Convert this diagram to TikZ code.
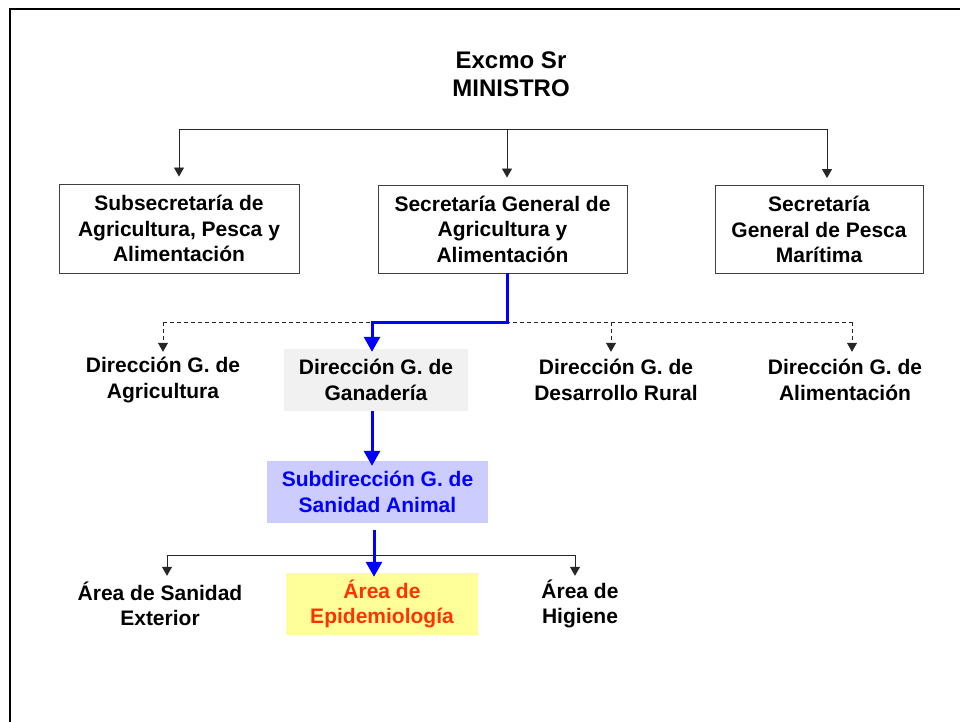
\documentclass[tikz,border=0pt]{standalone}
\usepackage{fontspec}
\setmainfont{Liberation Sans}
\usetikzlibrary{arrows.meta}
\definecolor{azul}{HTML}{0000FF}
\definecolor{lila}{HTML}{CCCCFF}
\definecolor{amarillo}{HTML}{FFFF99}
\definecolor{rojo}{HTML}{FF3300}
\definecolor{grisclaro}{HTML}{F1F1F1}
\begin{document}
\begin{tikzpicture}[x=1pt,y=-1pt,
  texto/.style={align=center,inner sep=0pt,font=\bfseries\fontsize{21}{25.5}\selectfont},
  caja/.style={texto,draw=black!75,line width=0.9pt},
  linea/.style={draw=black!85,line width=0.8pt},
  punta/.style={-{Triangle[length=9pt,width=10pt]}},
  flecha/.style={linea,punta},
  punteada/.style={linea,punta,dash pattern=on 4pt off 3pt},
  azulada/.style={draw=azul,line width=3pt,-{Triangle[length=15pt,width=16pt]}}]
\useasboundingbox (0,0) rectangle (960,722);
\draw[line width=2pt] (10,722) -- (10,9) -- (960,9);
\node[texto,font=\bfseries\fontsize{24}{28.5}\selectfont] (ministro) at (511,74) {Excmo Sr\\MINISTRO};
\node[caja,minimum width=240,minimum height=89] (subsec) at (179,228.5) {Subsecretaría de\\Agricultura, Pesca y\\Alimentación};
\node[caja,minimum width=249,minimum height=88] (sgaa) at (502.5,229) {Secretaría General de\\Agricultura y\\Alimentación};
\node[caja,minimum width=208,minimum height=88] (sgpm) at (819,229.5) {Secretaría\\General de Pesca\\Marítima};
\node[texto,minimum height=62] (dgagr) at (163,380) {Dirección G. de\\Agricultura};
\node[texto,fill=grisclaro,minimum width=184,minimum height=62] (dggan) at (376,380) {Dirección G. de\\Ganadería};
\node[texto,minimum height=62] (dgdr) at (616,380) {Dirección G. de\\Desarrollo Rural};
\node[texto,minimum height=62] (dgali) at (845,380) {Dirección G. de\\Alimentación};
\node[texto,fill=lila,text=azul,minimum width=221,minimum height=62] (sdsa) at (377.5,492) {Subdirección G. de\\Sanidad Animal};
\node[texto,minimum height=62] (asex) at (160,604) {Área de Sanidad\\Exterior};
\node[texto,fill=amarillo,text=rojo,minimum width=192,minimum height=62] (aepi) at (382,604) {Área de\\Epidemiología};
\node[texto,minimum height=62] (ahig) at (580,604) {Área de\\Higiene};
\coordinate (bi) at (179,129);
\coordinate (bc) at (507,129);
\coordinate (bd) at (827,129);
\draw[linea] (bi) -- (bd);
\draw[flecha,shorten >=7pt] (bi) -- (bi |- subsec.north);
\draw[flecha,shorten >=7pt] (bc) -- (bc |- sgaa.north);
\draw[flecha,shorten >=7pt] (bd) -- (bd |- sgpm.north);
\coordinate (di) at (163,322);
\coordinate (dr) at (611,322);
\coordinate (dd) at (852,322);
\draw[linea,dash pattern=on 4pt off 3pt] (di) -- (dd);
\draw[punteada,shorten >=-3pt] (di) -- (di |- dgagr.north);
\draw[punteada,shorten >=-3pt] (dr) -- (dr |- dgdr.north);
\draw[punteada,shorten >=-3pt] (dd) -- (dd |- dgali.north);
\coordinate (g1) at (507,322);
\coordinate (g2) at (372,322);
\draw[azulada,shorten >=-3pt] (g1 |- sgaa.south) -- (g1) -- (g2) -- (g2 |- dggan.north);
\coordinate (g3) at (372,411);
\draw[azulada,shorten >=-5pt] (g3 |- dggan.south) -- (g3 |- sdsa.north);
\coordinate (ai) at (167,555);
\coordinate (ad) at (575,555);
\draw[linea] (ai) -- (ad);
\draw[flecha,shorten >=-3pt] (ai) -- (ai |- asex.north);
\draw[flecha,shorten >=-3pt] (ad) -- (ad |- ahig.north);
\coordinate (g4) at (374,555);
\draw[azulada,shorten <=7pt,shorten >=-4pt] (g4 |- sdsa.south) -- (g4 |- aepi.north);
\end{tikzpicture}
\end{document}
